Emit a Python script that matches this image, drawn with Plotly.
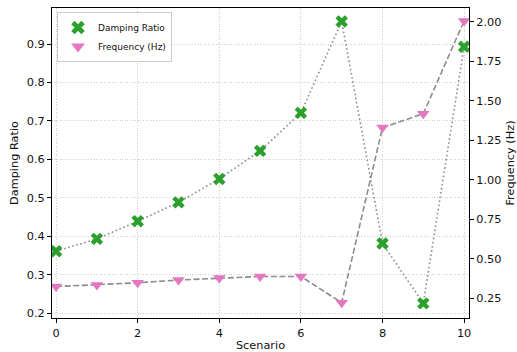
import plotly.graph_objects as go

# Scenario index and the two measured quantities
scenarios = [0, 1, 2, 3, 4, 5, 6, 7, 8, 9, 10]
damping_ratio = [0.361, 0.393, 0.439, 0.488, 0.549, 0.622, 0.721, 0.959, 0.381, 0.225, 0.893]
frequency_hz = [0.324, 0.334, 0.348, 0.365, 0.378, 0.388, 0.388, 0.222, 1.330, 1.418, 2.005]

left_ticks = [0.2, 0.3, 0.4, 0.5, 0.6, 0.7, 0.8, 0.9]
right_ticks = [0.25, 0.50, 0.75, 1.00, 1.25, 1.50, 1.75, 2.00]
x_ticks = [0, 2, 4, 6, 8, 10]

GREEN = "#2ca02c"
PINK = "#e377c2"
LINE = "rgba(128,128,128,0.9)"
GRID = "#d0d0d0"
FONT = "DejaVu Sans"

fig = go.Figure()

# connecting lines (kept out of the legend)
fig.add_trace(go.Scatter(
    x=scenarios, y=damping_ratio, mode="lines",
    line=dict(color=LINE, width=1.6, dash="1.6px,2.6px"),
    showlegend=False, hoverinfo="skip", yaxis="y"))
fig.add_trace(go.Scatter(
    x=scenarios, y=damping_ratio, mode="markers", name="Damping Ratio",
    marker=dict(symbol="x", size=11, color=GREEN, line=dict(width=0)),
    yaxis="y"))
fig.add_trace(go.Scatter(
    x=scenarios, y=frequency_hz, mode="lines",
    line=dict(color=LINE, width=1.6, dash="6px,2.6px"),
    showlegend=False, hoverinfo="skip", yaxis="y2"))
fig.add_trace(go.Scatter(
    x=scenarios, y=frequency_hz, mode="markers", name="Frequency (Hz)",
    marker=dict(symbol="triangle-down", size=11, color=PINK, line=dict(width=0)),
    yaxis="y2"))

axis_common = dict(
    showline=True, linecolor="black", linewidth=1,
    ticks="outside", ticklen=4, tickcolor="black",
    tickfont=dict(family=FONT, size=11.3, color="#111"),
    zeroline=False, automargin=False,
)
title_font = dict(family=FONT, size=11.3, color="#111")

fig.update_layout(
    width=517, height=352,
    margin=dict(l=52, r=48, t=8, b=34, autoexpand=False),
    paper_bgcolor="white", plot_bgcolor="white",
    font=dict(family=FONT, size=11, color="#111"),
    xaxis=dict(
        range=[-0.1, 10.12], tickvals=x_ticks, mirror=True,
        showgrid=True, gridcolor=GRID, griddash="1px,1.6px", gridwidth=1,
        title=dict(text="Scenario", font=title_font, standoff=5),
        **axis_common),
    yaxis=dict(
        range=[0.187, 0.994], tickvals=left_ticks, tickformat=".1f",
        showgrid=True, gridcolor=GRID, griddash="1px,1.6px", gridwidth=1,
        title=dict(text="Damping Ratio", font=title_font, standoff=5),
        **axis_common),
    yaxis2=dict(
        range=[0.125, 2.087], tickvals=right_ticks, tickformat=".2f",
        overlaying="y", side="right", showgrid=False,
        title=dict(text="Frequency (Hz)", font=title_font, standoff=8),
        **axis_common),
    legend=dict(
        x=0.012, y=0.987, xanchor="left", yanchor="top",
        bgcolor="rgba(255,255,255,0.85)", bordercolor="#cccccc", borderwidth=1,
        font=dict(family=FONT, size=9, color="#111"),
        itemsizing="constant", tracegroupgap=0),
    showlegend=True,
)

fig.write_html("out.html")
